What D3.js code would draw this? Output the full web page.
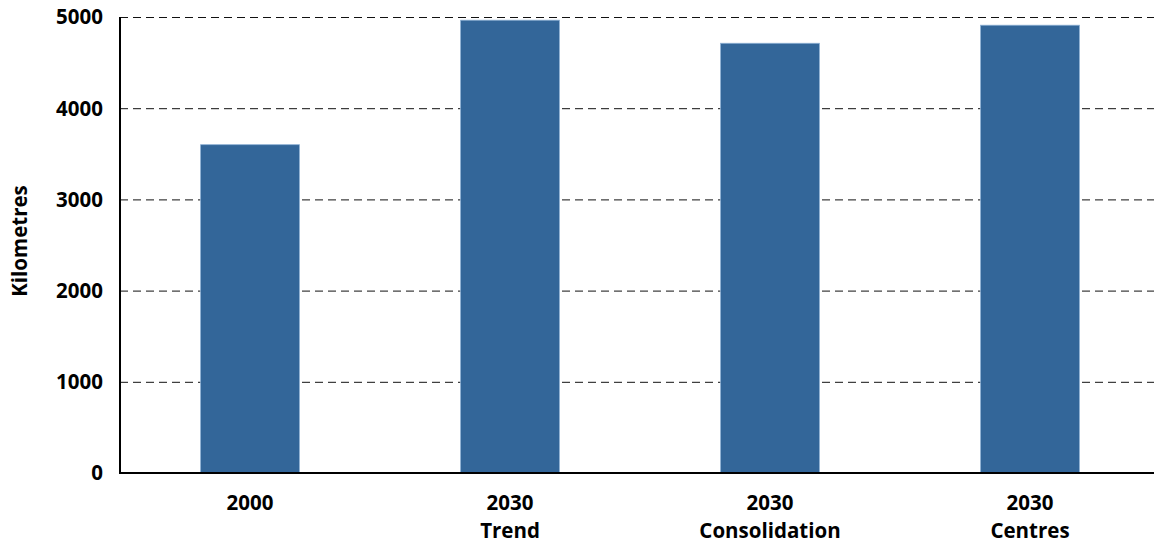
<!DOCTYPE html>
<html><head><meta charset="utf-8">
<script src="https://cdn.jsdelivr.net/npm/d3@7"></script>
<style>body{margin:0;background:#fff}</style>
</head><body>
<svg id="c" width="1154" height="543"></svg>
<script>
const categories = [["2000"], ["2030", "Trend"], ["2030", "Consolidation"], ["2030", "Centres"]];
const values = [3600, 4965, 4712, 4910];
const yTicks = [0, 1000, 2000, 3000, 4000, 5000];
const yLabel = "Kilometres";

(function () {
const svg = d3.select("#c");
const font = "'Open Sans', sans-serif";
const fs = 20.5;
const mLeft = 120, mRight = 1160, mTop = 17, mBottom = 473;
const keys = categories.map(c => c.join(" "));
const x = d3.scaleBand().domain(keys).range([mLeft, mRight]).padding(0);
const y = d3.scaleLinear().domain([0, 5000]).range([mBottom, mTop]);

// gridlines
svg.append("g").selectAll("line").data(yTicks.filter(t => t > 0)).join("line")
  .attr("x1", mLeft).attr("x2", 1154)
  .attr("y1", d => y(d) + 0.5).attr("y2", d => y(d) + 0.5)
  .attr("stroke", "#111").attr("stroke-width", 1).attr("stroke-dasharray", "8,5");

// bars
const bw = x.bandwidth() * 0.38;
svg.append("g").selectAll("rect").data(values).join("rect")
  .attr("x", (d, i) => x(keys[i]) + x.bandwidth() / 2 - bw / 2)
  .attr("width", bw)
  .attr("y", d => y(d))
  .attr("height", d => y(0) - y(d))
  .attr("fill", "#336699").attr("stroke", "#8db0d4").attr("stroke-width", 0.8);

// axes
svg.append("line").attr("x1", mLeft).attr("x2", mLeft).attr("y1", mTop).attr("y2", mBottom + 1)
  .attr("stroke", "#000").attr("stroke-width", 2);
svg.append("line").attr("x1", mLeft - 1).attr("x2", 1154).attr("y1", mBottom).attr("y2", mBottom)
  .attr("stroke", "#000").attr("stroke-width", 2);

// y tick labels
svg.append("g").selectAll("text").data(yTicks).join("text")
  .attr("x", 103).attr("y", d => y(d)).attr("dy", "0.36em")
  .attr("text-anchor", "end").attr("font-family", font).attr("font-weight", "bold")
  .attr("font-size", fs).attr("fill", "#000").text(d => d);

// x labels
const xl = svg.append("g").selectAll("text").data(categories).join("text")
  .attr("text-anchor", "middle").attr("font-family", font).attr("font-weight", "bold")
  .attr("font-size", fs).attr("fill", "#000")
  .attr("transform", (d, i) => `translate(${x(keys[i]) + x.bandwidth() / 2},510)`);
xl.selectAll("tspan").data(d => d).join("tspan")
  .attr("x", 0).attr("dy", (d, i) => i === 0 ? 0 : 28).text(d => d);

// y label
svg.append("text").attr("transform", "translate(27,241) rotate(-90)")
  .attr("text-anchor", "middle").attr("font-family", font).attr("font-weight", "bold")
  .attr("font-size", fs).attr("fill", "#000").text(yLabel);
})();
</script>
</body></html>
